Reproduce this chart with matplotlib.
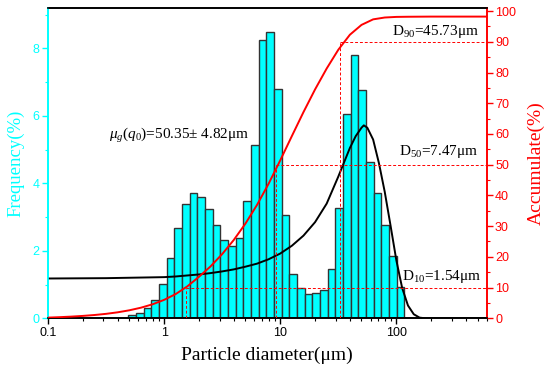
import numpy as np
import matplotlib
matplotlib.use("Agg")
import matplotlib.pyplot as plt
from matplotlib.ticker import FixedLocator, FuncFormatter, MultipleLocator, NullFormatter

# ---------------- data ----------------
freq = [0.10, 0.17, 0.30, 0.53, 1.02, 1.79, 2.68, 3.38, 3.70, 3.61, 3.25, 2.76,
        2.33, 2.13, 2.39, 3.49, 5.14, 8.26, 8.49, 6.80, 3.06, 1.30, 0.89, 0.73,
        0.75, 0.84, 1.47, 3.28, 6.05, 7.80, 6.76, 4.62, 3.70, 2.78, 1.84, 0.92]
bin_lo_log, bin_hi_log = -0.308, 2.068   # log10 of first/last bin edge (um)

# cumulative curve, read at log10(d) positions
cum_logx = [-1.0, -0.9, -0.8, -0.7, -0.6, -0.5, -0.4, -0.3, -0.2, -0.1, 0.0, 0.1,
            0.2, 0.3, 0.4, 0.5, 0.6, 0.7, 0.8, 0.9, 1.0, 1.1, 1.2, 1.3, 1.4, 1.5,
            1.6, 1.7, 1.8, 1.9, 2.0, 2.1, 2.3, 2.78]
cum_y = [0.22, 0.37, 0.55, 0.78, 1.07, 1.45, 1.95, 2.6, 3.45, 4.55, 6.0, 7.9,
         10.4, 13.5, 16.9, 20.9, 25.5, 30.8, 36.9, 43.8, 51.4, 59.3, 67.1, 74.5,
         81.3, 87.4, 92.3, 95.5, 97.3, 97.9, 98.1, 98.15, 98.2, 98.2]

# fitted frequency curve, read at log10(d) positions
fit_logx = [-1.0, -0.5, 0.0, 0.1, 0.2, 0.3, 0.4, 0.5, 0.6, 0.7, 0.8, 0.9, 1.0,
            1.1, 1.2, 1.3, 1.4, 1.5, 1.6, 1.65, 1.7, 1.72, 1.75, 1.8, 1.85, 1.9,
            1.95, 2.0, 2.05, 2.1, 2.15, 2.2, 2.25, 2.78]
fit_y = [1.18, 1.19, 1.22, 1.24, 1.27, 1.30, 1.34, 1.39, 1.45, 1.53, 1.62, 1.75,
         1.92, 2.15, 2.45, 2.85, 3.40, 4.20, 5.05, 5.40, 5.65, 5.72, 5.65, 5.30,
         4.60, 3.75, 2.75, 1.72, 0.90, 0.38, 0.12, 0.02, 0.0, 0.0]

# characteristic lines: (x position of vertical, cumulative %)
d_lines_x = [1.55, 9.25, 32.5]
d_lines_y = [10, 50, 90]
d_labels = [r"D$_{10}$=1.54μm", r"D$_{50}$=7.47μm", r"D$_{90}$=45.73μm"]

xtick_vals = [0.1, 1, 10, 100]
xtick_labels = ["0.1", "1", "10", "100"]

# ---------------- style ----------------
CYAN = "#00FFFF"
RED = "#FF0000"
plt.rcParams["mathtext.fontset"] = "custom"
plt.rcParams["mathtext.rm"] = "Liberation Serif"
plt.rcParams["mathtext.it"] = "Liberation Serif:italic"
plt.rcParams["font.family"] = ["Liberation Sans", "DejaVu Sans"]
serif = ["Liberation Serif", "DejaVu Serif"]

fig = plt.figure(figsize=(5.5, 3.78), dpi=100)
ax = fig.add_axes([48 / 550, 1 - 318.3 / 378, (486.7 - 48) / 550, (318.3 - 8.3) / 378])
ax2 = ax.twinx()

edges = np.logspace(bin_lo_log, bin_hi_log, len(freq) + 1)
ax.bar(edges[:-1], freq, width=np.diff(edges), align="edge", color=CYAN,
       edgecolor="#333333", linewidth=1.0, zorder=2)
ax.plot(10.0 ** np.array(fit_logx), fit_y, color="black", lw=1.4, zorder=3)

ax.set_xscale("log")
ax.set_xlim(0.1, 600)
ax.set_ylim(0, 9.19)
ax2.set_ylim(0, 100.9)

ax2.plot(10.0 ** np.array(cum_logx), cum_y, color=RED, lw=1.4, zorder=4)
for xv, yv in zip(d_lines_x, d_lines_y):
    ax2.plot([xv, xv], [0, yv], color=RED, ls=(0, (3, 2)), lw=0.7, zorder=3)
    ax2.plot([xv, 600], [yv, yv], color=RED, ls=(0, (3, 2)), lw=0.7, zorder=3)

# ticks
ax.xaxis.set_major_locator(FixedLocator(xtick_vals))
ax.xaxis.set_major_formatter(FuncFormatter(
    lambda v, p: xtick_labels[xtick_vals.index(v)] if v in xtick_vals else ""))
minors = [m * 10.0 ** e for e in range(-1, 3) for m in range(2, 10)]
ax.xaxis.set_minor_locator(FixedLocator(minors))
ax.xaxis.set_minor_formatter(NullFormatter())
ax.yaxis.set_major_locator(MultipleLocator(2))
ax.yaxis.set_minor_locator(MultipleLocator(1))
ax2.yaxis.set_major_locator(MultipleLocator(10))
ax2.yaxis.set_minor_locator(MultipleLocator(5))

ax.tick_params(axis="x", which="major", direction="out", length=4, width=1,
               colors="black", labelsize=9, pad=2)
ax.tick_params(axis="x", which="minor", direction="out", length=2.5, width=0.8)
ax.tick_params(axis="y", which="major", direction="out", length=4, width=1,
               colors=CYAN, labelsize=9, pad=2)
ax.tick_params(axis="y", which="minor", direction="out", length=2.5, width=0.8, colors=CYAN)
ax2.tick_params(axis="y", which="major", direction="out", length=4, width=1,
                colors=RED, labelsize=9, pad=2)
ax2.tick_params(axis="y", which="minor", direction="out", length=2.5, width=0.8, colors=RED)

for a in (ax, ax2):
    a.spines["left"].set_color(CYAN)
    a.spines["right"].set_color(RED)
    a.spines["top"].set_color("black")
    a.spines["bottom"].set_color("black")
    for s in a.spines.values():
        s.set_linewidth(1.2)

ax.set_xlabel("Particle diameter(μm)", fontsize=14, family=serif, labelpad=6)
ax.set_ylabel("Frequency(%)", fontsize=13.5, family=serif, color=CYAN, labelpad=6)
ax2.set_ylabel("Accumulate(%)", fontsize=14, family=serif, color=RED, labelpad=8)

# annotations
ax.text(0.336, 5.31, r"$\mu_g(q_0)$=50.35± 4.82μm", fontsize=11, family=serif,
        ha="left", va="baseline", zorder=5)
label_pos = [(112, 1.14), (104.6, 4.84), (91.6, 8.39)]
for (tx, ty), lab in zip(label_pos, d_labels):
    ax.text(tx, ty, lab, fontsize=11, family=serif, ha="left", va="baseline", zorder=5)

fig.savefig("out.png", dpi=100)
